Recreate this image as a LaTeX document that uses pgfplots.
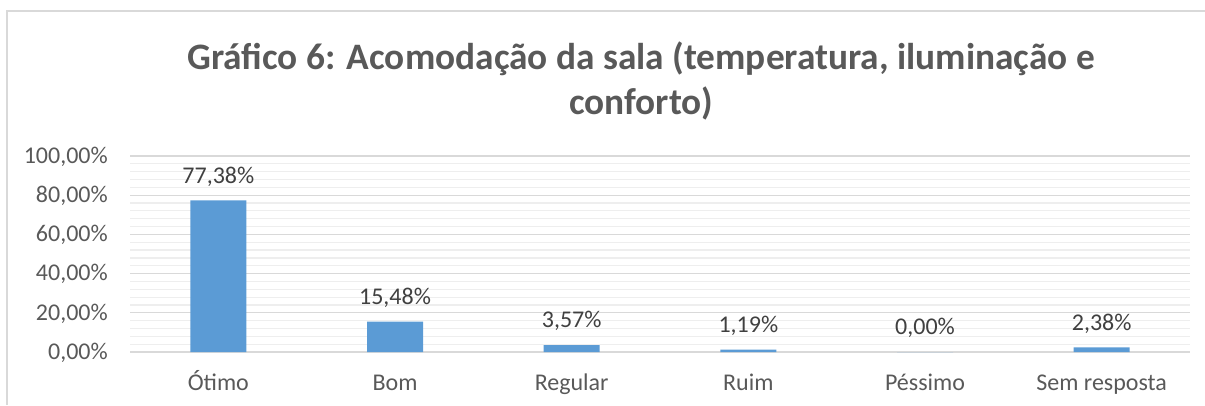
\documentclass[border=0pt]{standalone}
\usepackage{pgfplots}
\pgfplotsset{compat=1.18}
\usepackage{fontspec}
\setmainfont{Carlito}
\definecolor{barblue}{HTML}{5B9BD5}
\definecolor{txtgray}{HTML}{595959}
\definecolor{lblgray}{HTML}{404040}
\definecolor{gridmaj}{HTML}{D9D9D9}
\definecolor{gridmin}{HTML}{EEEEEE}
\begin{document}
\begin{tikzpicture}
\useasboundingbox (0pt,0pt) rectangle (903.75pt,303.75pt);
\draw[gridmaj, line width=1.5pt] (5.25pt,0pt) -- (5.25pt,295.5pt) -- (903.75pt,295.5pt);
\node[font=\bfseries\fontsize{28}{34}\selectfont, text=txtgray, align=center] at (480.75pt,243pt) {Gráfico 6: Acomodação da sala (temperatura, iluminação e\\conforto)};
\begin{axis}[
  at={(97.5pt,39.75pt)}, anchor=south west,
  scale only axis, width=795pt, height=147pt,
  xmin=-0.5, xmax=5.5, ymin=0, ymax=100,
  xtick={0,1,2,3,4,5},
  xticklabels={Ótimo,Bom,Regular,Ruim,Péssimo,Sem resposta},
  ytick={0,20,40,60,80,100},
  minor y tick num=4,
  ymajorgrids, yminorgrids,
  major grid style={gridmaj, line width=0.9pt},
  minor grid style={gridmin, line width=0.9pt},
  axis line style={draw=none},
  major tick length=0pt, minor tick length=0pt,
  /pgf/number format/assume math mode=true,
  yticklabel={\pgfmathprintnumber[fixed,fixed zerofill,precision=2,use comma]{\tick}\%},
  yticklabel style={font=\fontsize{18}{20}\selectfont, text=txtgray, anchor=base east, inner sep=0pt, xshift=-16.5pt, yshift=-5.4pt},
  xticklabel style={font=\fontsize{18}{20}\selectfont, text=txtgray, anchor=base, inner sep=0pt, yshift=-29pt},
  nodes near coords={\pgfmathprintnumber[fixed,fixed zerofill,precision=2,use comma]{\pgfplotspointmeta}\%},
  nodes near coords style={font=\fontsize{18}{20}\selectfont, text=lblgray, anchor=base, inner sep=0pt, yshift=13pt},
  clip=false,
]
\addplot[ybar, bar width=42pt, fill=barblue, draw=none] coordinates {
  (0,77.38) (1,15.48) (2,3.57) (3,1.19) (4,0.00) (5,2.38)
};
\end{axis}
\end{tikzpicture}
\end{document}
